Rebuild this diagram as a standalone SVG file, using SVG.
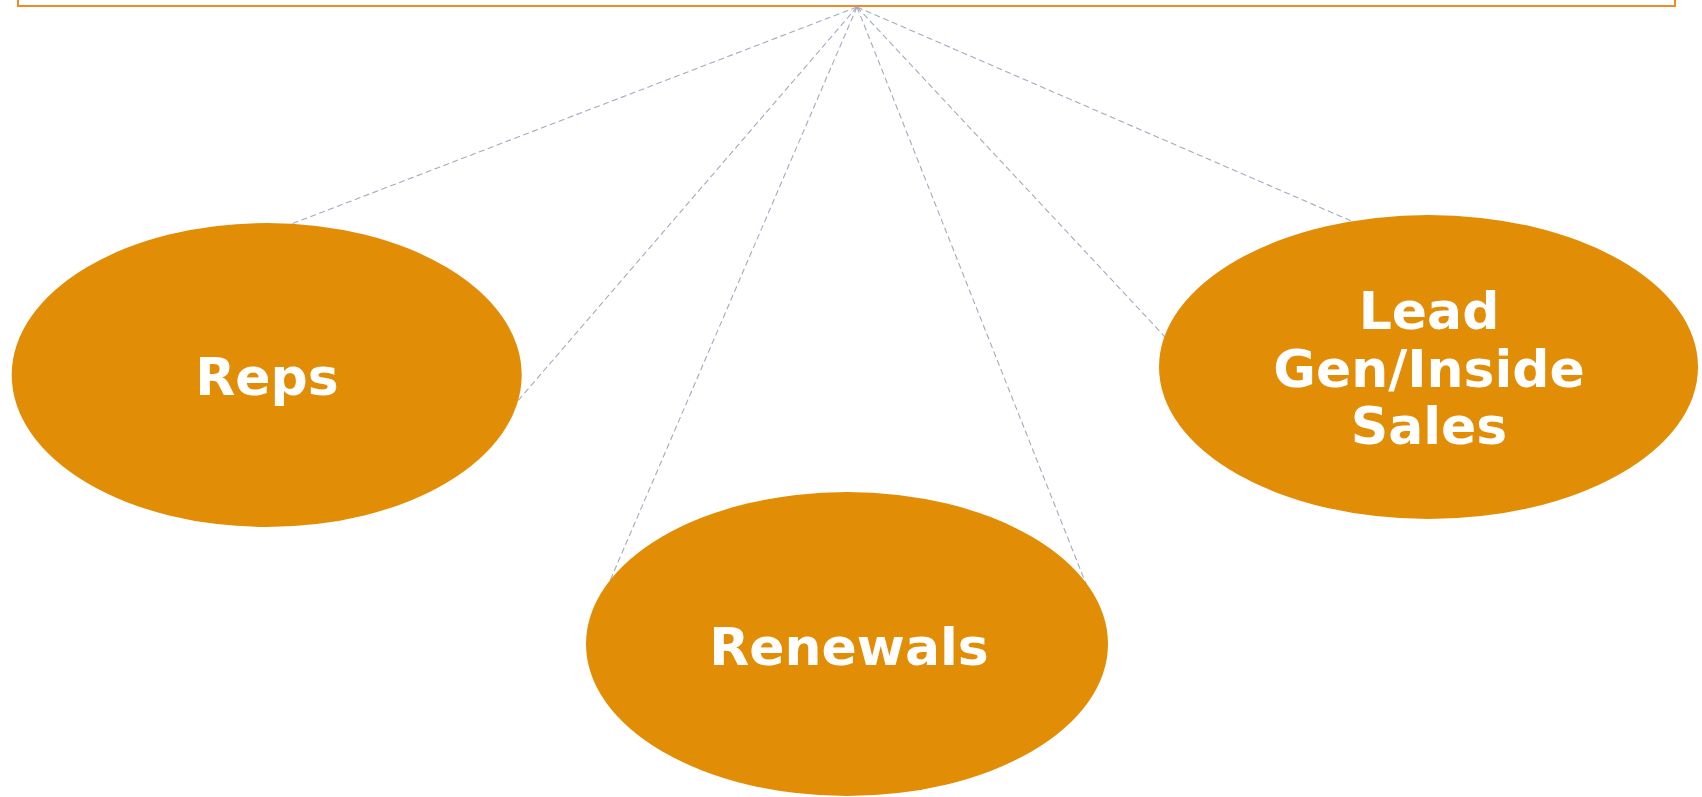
<svg xmlns="http://www.w3.org/2000/svg" width="1702" height="797" viewBox="0 0 1702 797">
  <style>
    .bubble { fill: #E18D06; }
    .label { font-family: "DejaVu Sans", Verdana, sans-serif; font-weight: bold; font-size: 52px; fill: #FFFFFF; text-anchor: middle; }
    .ray { stroke: #A3AAC2; stroke-width: 1.1; stroke-dasharray: 6 3.5; fill: none; }
  </style>

  <!-- frame running along the top edge -->
  <g id="frame">
    <rect x="18" y="-30" width="1657" height="36" fill="none" stroke="#F08A24" stroke-width="2"/>
  </g>

  <!-- dashed rays fanning out from the frame to each team -->
  <g id="connectors">
    <line class="ray" x1="857" y1="7" x2="290" y2="224.5"/>
    <line class="ray" x1="857" y1="7" x2="516" y2="403"/>
    <line class="ray" x1="857" y1="7" x2="606" y2="590"/>
    <line class="ray" x1="857" y1="7" x2="1096" y2="609"/>
    <line class="ray" x1="857" y1="7" x2="1166" y2="338"/>
    <line class="ray" x1="857" y1="7" x2="1356" y2="223"/>
  </g>

  <g id="reps">
    <ellipse class="bubble" cx="266.7" cy="375" rx="255" ry="152"/>
    <text class="label" x="267" y="395">Reps</text>
  </g>

  <g id="renewals">
    <ellipse class="bubble" cx="847" cy="644" rx="261" ry="152"/>
    <text class="label" x="849" y="665">Renewals</text>
  </g>

  <g id="lead-gen">
    <ellipse class="bubble" cx="1428.5" cy="367" rx="269.5" ry="152"/>
    <text class="label" x="1429" y="329">Lead</text>
    <text class="label" x="1429" y="387">Gen/Inside</text>
    <text class="label" x="1429" y="444">Sales</text>
  </g>
</svg>
